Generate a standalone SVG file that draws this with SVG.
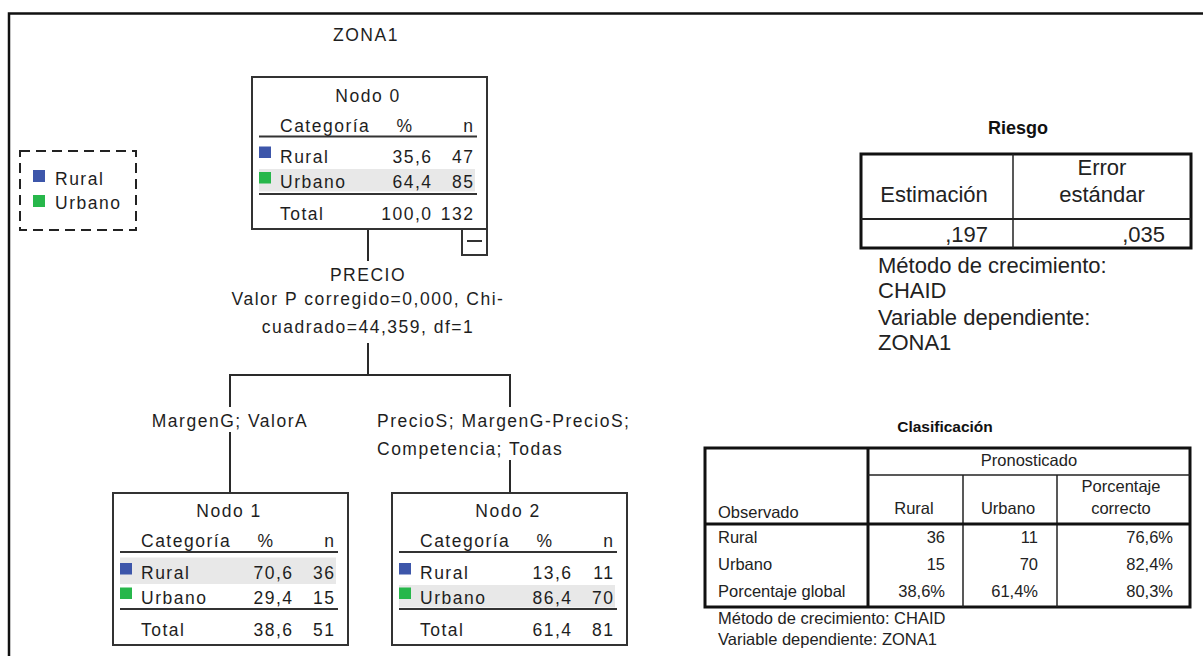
<svg xmlns="http://www.w3.org/2000/svg" width="1203" height="656" viewBox="0 0 1203 656">
  <style>
    .t { font-family: "Liberation Sans", Arial, sans-serif; font-size: 17.5px; letter-spacing: 1.5px; fill: #1e1e1e; }
    .m { text-anchor: middle; }
    .e { text-anchor: end; }
    .box { fill: #ffffff; stroke: #333333; stroke-width: 2; }
    .rule { stroke: #333333; stroke-width: 2; }
    .hl { fill: #e8e8e8; }
    .rural { fill: #3d56aa; }
    .urbano { fill: #27b74b; }
    .conn { fill: none; stroke: #2a2a2a; stroke-width: 2; }
    .tb { font-family: "Liberation Sans", Arial, sans-serif; fill: #222222; }
    .r { font-size: 22px; }
    .c { font-size: 16.5px; }
    .ttl { font-weight: bold; fill: #111111; }
    .thick { fill: none; stroke: #111111; stroke-width: 3; }
    .thin { fill: none; stroke: #222222; stroke-width: 1.5; }
  </style>

  <!-- page frame -->
  <path d="M9,656 V13.5 H1203" fill="none" stroke="#111111" stroke-width="2.5"/>

  <!-- tree title -->
  <text class="t m" x="366" y="40.5">ZONA1</text>

  <!-- legend -->
  <g id="legend">
    <rect x="20" y="151" width="116" height="79" fill="none" stroke="#222222" stroke-width="2" stroke-dasharray="10 6"/>
    <rect class="rural" x="33" y="170" width="12" height="12"/>
    <text class="t" x="55" y="184.5">Rural</text>
    <rect class="urbano" x="33" y="195" width="12" height="12"/>
    <text class="t" x="55" y="209">Urbano</text>
  </g>

  <!-- connectors and split labels -->
  <g id="connectors">
    <path class="conn" d="M368,229 V261"/>
    <path class="conn" d="M368,343 V375 M230,375 H510 M230,374 V407 M510,374 V407"/>
    <path class="conn" d="M230,432 V493"/>
    <path class="conn" d="M510,460 V493"/>
    <text class="t m" x="368" y="281">PRECIO</text>
    <text class="t m" x="368" y="305">Valor P corregido=0,000, Chi-</text>
    <text class="t m" x="368" y="333">cuadrado=44,359, df=1</text>
    <text class="t m" x="230" y="427">MargenG; ValorA</text>
    <text class="t" x="377" y="427">PrecioS; MargenG-PrecioS;</text>
    <text class="t" x="377" y="455">Competencia; Todas</text>
  </g>

  <!-- node 0 -->
  <g id="node0" transform="translate(252,77)">
    <rect class="box" x="0" y="0" width="235" height="152"/>
    <text class="t m" x="116" y="24.5">Nodo 0</text>
    <text class="t" x="28" y="54.5">Categoría</text>
    <text class="t m" x="153" y="54.5">%</text>
    <text class="t e" x="222.5" y="54.5">n</text>
    <line class="rule" x1="7" y1="59.5" x2="225" y2="59.5"/>
    <rect class="rural" x="7" y="69.5" width="12" height="11.5"/>
    <text class="t" x="28" y="86">Rural</text>
    <text class="t e" x="180.5" y="86">35,6</text>
    <text class="t e" x="222.5" y="86">47</text>
    <rect class="hl" x="7" y="92" width="216" height="22.5"/>
    <rect class="urbano" x="7" y="95" width="12" height="11.5"/>
    <text class="t" x="28" y="111">Urbano</text>
    <text class="t e" x="180.5" y="111">64,4</text>
    <text class="t e" x="222.5" y="111">85</text>
    <line class="rule" x1="7" y1="117" x2="225" y2="117"/>
    <text class="t" x="28" y="143">Total</text>
    <text class="t e" x="180.5" y="143">100,0</text>
    <text class="t e" x="222.5" y="143">132</text>
    <!-- collapse toggle -->
    <rect class="box" x="210" y="152" width="25" height="26"/>
    <line class="rule" x1="215" y1="164" x2="230" y2="164"/>
  </g>

  <!-- node 1 -->
  <g id="node1" transform="translate(113,493)">
    <rect class="box" x="0" y="0" width="235" height="152"/>
    <text class="t m" x="116" y="23.5">Nodo 1</text>
    <text class="t" x="28" y="54">Categoría</text>
    <text class="t m" x="153" y="54">%</text>
    <text class="t e" x="222.5" y="54">n</text>
    <line class="rule" x1="7" y1="59" x2="225" y2="59"/>
    <rect class="hl" x="7" y="64.5" width="216" height="26.5"/>
    <rect class="rural" x="7" y="70" width="12" height="11.5"/>
    <text class="t" x="28" y="85.5">Rural</text>
    <text class="t e" x="180.5" y="85.5">70,6</text>
    <text class="t e" x="222.5" y="85.5">36</text>
    <rect class="urbano" x="7" y="94.5" width="12" height="11.5"/>
    <text class="t" x="28" y="110.5">Urbano</text>
    <text class="t e" x="180.5" y="110.5">29,4</text>
    <text class="t e" x="222.5" y="110.5">15</text>
    <line class="rule" x1="7" y1="116" x2="225" y2="116"/>
    <text class="t" x="28" y="142.5">Total</text>
    <text class="t e" x="180.5" y="142.5">38,6</text>
    <text class="t e" x="222.5" y="142.5">51</text>
  </g>

  <!-- node 2 -->
  <g id="node2" transform="translate(392,493)">
    <rect class="box" x="0" y="0" width="235" height="152"/>
    <text class="t m" x="116" y="23.5">Nodo 2</text>
    <text class="t" x="28" y="54">Categoría</text>
    <text class="t m" x="153" y="54">%</text>
    <text class="t e" x="222.5" y="54">n</text>
    <line class="rule" x1="7" y1="59" x2="225" y2="59"/>
    <rect class="rural" x="7" y="70" width="12" height="11.5"/>
    <text class="t" x="28" y="85.5">Rural</text>
    <text class="t e" x="180.5" y="85.5">13,6</text>
    <text class="t e" x="222.5" y="85.5">11</text>
    <rect class="hl" x="7" y="92" width="216" height="22.5"/>
    <rect class="urbano" x="7" y="94.5" width="12" height="11.5"/>
    <text class="t" x="28" y="110.5">Urbano</text>
    <text class="t e" x="180.5" y="110.5">86,4</text>
    <text class="t e" x="222.5" y="110.5">70</text>
    <line class="rule" x1="7" y1="116" x2="225" y2="116"/>
    <text class="t" x="28" y="142.5">Total</text>
    <text class="t e" x="180.5" y="142.5">61,4</text>
    <text class="t e" x="222.5" y="142.5">81</text>
  </g>

  <!-- risk table -->
  <g id="riesgo">
    <text class="tb ttl m" x="1018" y="134" font-size="18">Riesgo</text>
    <rect class="thick" x="861" y="154" width="330" height="94"/>
    <line class="thin" x1="1013" y1="154" x2="1013" y2="248"/>
    <line x1="861" y1="219" x2="1191" y2="219" stroke="#222222" stroke-width="2"/>
    <text class="tb r m" x="934" y="202">Estimación</text>
    <text class="tb r m" x="1102" y="175">Error</text>
    <text class="tb r m" x="1102" y="202">estándar</text>
    <text class="tb r e" x="988" y="242">,197</text>
    <text class="tb r e" x="1165" y="242">,035</text>
    <text class="tb r" x="878" y="273">Método de crecimiento:</text>
    <text class="tb r" x="878" y="298">CHAID</text>
    <text class="tb r" x="878" y="325">Variable dependiente:</text>
    <text class="tb r" x="878" y="350">ZONA1</text>
  </g>

  <!-- classification table -->
  <g id="clasificacion">
    <text class="tb ttl m" x="945" y="432" font-size="15.5">Clasificación</text>
    <rect class="thick" x="705" y="448" width="485" height="159"/>
    <line class="thick" x1="868" y1="448" x2="868" y2="607"/>
    <line class="thin" x1="868" y1="475" x2="1190" y2="475"/>
    <line class="thin" x1="963" y1="475" x2="963" y2="607"/>
    <line class="thin" x1="1057" y1="475" x2="1057" y2="607"/>
    <line class="thick" x1="705" y1="524" x2="1190" y2="524"/>
    <text class="tb c m" x="1029" y="466">Pronosticado</text>
    <text class="tb c" x="718" y="518">Observado</text>
    <text class="tb c m" x="914" y="514">Rural</text>
    <text class="tb c m" x="1008" y="514">Urbano</text>
    <text class="tb c m" x="1121" y="492">Porcentaje</text>
    <text class="tb c m" x="1121" y="514">correcto</text>
    <text class="tb c" x="718" y="543">Rural</text>
    <text class="tb c e" x="945" y="543">36</text>
    <text class="tb c e" x="1038" y="543">11</text>
    <text class="tb c e" x="1173" y="543">76,6%</text>
    <text class="tb c" x="718" y="570">Urbano</text>
    <text class="tb c e" x="945" y="570">15</text>
    <text class="tb c e" x="1038" y="570">70</text>
    <text class="tb c e" x="1173" y="570">82,4%</text>
    <text class="tb c" x="718" y="597">Porcentaje global</text>
    <text class="tb c e" x="945" y="597">38,6%</text>
    <text class="tb c e" x="1038" y="597">61,4%</text>
    <text class="tb c e" x="1173" y="597">80,3%</text>
    <text class="tb c" x="718" y="624">Método de crecimiento: CHAID</text>
    <text class="tb c" x="718" y="645">Variable dependiente: ZONA1</text>
  </g>
</svg>
